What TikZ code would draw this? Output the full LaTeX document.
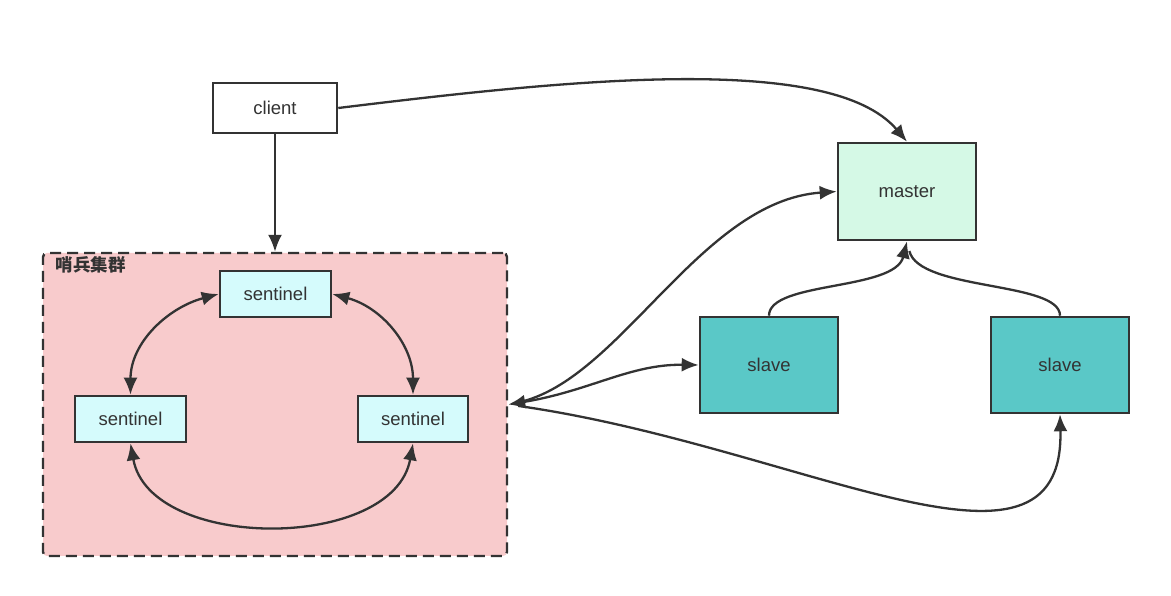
\documentclass[tikz,border=0pt]{standalone}
\usepackage{fontspec}
\setmainfont{Liberation Sans}
\newfontfamily\cjk{Noto Sans CJK SC}
\usetikzlibrary{arrows.meta,calc}
\definecolor{edge}{HTML}{333333}
\definecolor{clusterfill}{HTML}{F8CBCC}
\definecolor{sentfill}{HTML}{D5FBFC}
\definecolor{masterfill}{HTML}{D5F9E6}
\definecolor{slavefill}{HTML}{5AC8C7}
\tikzset{
  box/.style={draw=edge, line width=2.6pt, text=edge, inner sep=0pt, font=\fontsize{18.5}{22}\selectfont},
  conn/.style={draw=edge, line width=2.3pt},
  tip/.style={-{Latex[length=17pt,width=14pt]}},
  bitip/.style={{Latex[length=17pt,width=14pt]}-{Latex[length=17pt,width=14pt]}},
}
\begin{document}
\begin{tikzpicture}[x=1pt,y=1pt]
\useasboundingbox (0,0) rectangle (1171,596);
% cluster
\node[draw=edge, fill=clusterfill, line width=2.4pt, dash pattern=on 11pt off 6pt, rounded corners=4pt,
      minimum width=464pt, minimum height=303pt, inner sep=0pt] (cluster) at (275,191.5) {};
\node[anchor=north west, inner sep=0pt, text=edge, font=\cjk\bfseries\fontsize{17.5}{19}\selectfont] (clabel) at ($(cluster.north west)+(14,-4)$) {哨兵集群};
% nodes
\node[box, fill=white, minimum width=124pt, minimum height=50pt] (client) at (275,488) {client};
\node[box, fill=sentfill, minimum width=111pt, minimum height=46pt] (stop) at (275.5,302) {sentinel};
\node[box, fill=sentfill, minimum width=111pt, minimum height=46pt] (sleft) at (130.5,177) {sentinel};
\node[box, fill=sentfill, minimum width=110pt, minimum height=46pt] (sright) at (413,177) {sentinel};
\node[box, fill=masterfill, minimum width=138pt, minimum height=97pt] (master) at (907,404.5) {master};
\node[box, fill=slavefill, minimum width=138pt, minimum height=96pt] (slave1) at (769,231) {slave};
\node[box, fill=slavefill, minimum width=138pt, minimum height=96pt] (slave2) at (1060,231) {slave};
\coordinate (hub) at (cluster.east);
% connectors
\draw[conn, tip] (client.south) -- (cluster.north);
\draw[conn, tip] (client.east) .. controls (560,515) and (830,545) .. (master.north);
\draw[conn, bitip] (stop.west) to[out=195,in=90] (sleft.north);
\draw[conn, bitip] (stop.east) to[out=-15,in=90] (sright.north);
\draw[conn, bitip] (sleft.south) to[out=-80,in=-100] (sright.south);
\draw[conn, tip, shorten <=10pt] (hub) .. controls (620,215) and (700,395) .. (master.west);
\draw[conn, bitip] (hub) .. controls (590,205) and (630,232) .. (slave1.west);
\draw[conn, tip, shorten <=10pt] (hub) .. controls (800,150) and (1065,-10) .. (slave2.south);
\draw[conn, tip] (slave1.north) .. controls (769,315) and (895,305) .. (master.south);
\draw[conn, shorten >=10pt] (slave2.north) .. controls (1060,315) and (919,305) .. (master.south);
\end{tikzpicture}
\end{document}
